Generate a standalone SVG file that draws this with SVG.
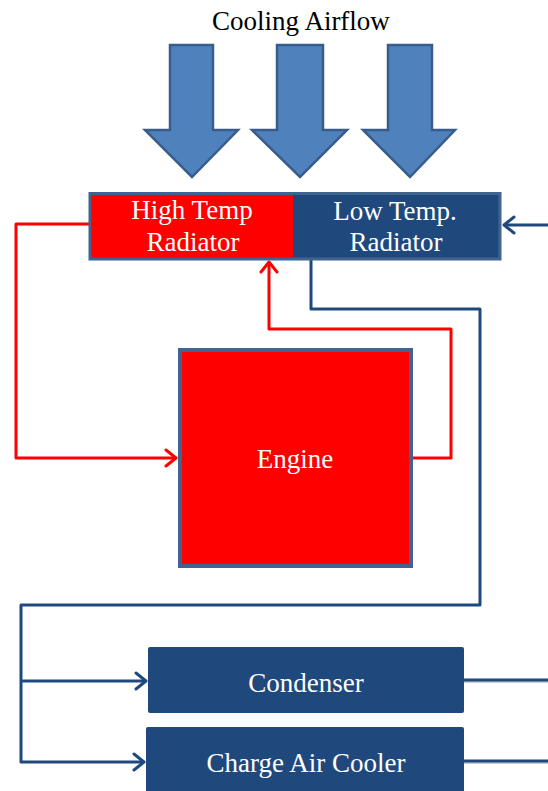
<svg xmlns="http://www.w3.org/2000/svg" width="548" height="791" viewBox="0 0 548 791">
  <style>
    text { font-family: "Liberation Serif", "Times New Roman", serif; text-anchor: middle; font-size: 27px; }
    .lbl { fill: #ffffff; }
    .title { fill: #000000; }
    .air { fill: #4f81bd; stroke: #385d8a; stroke-width: 2.5; stroke-linejoin: miter; }
    .hot { fill: none; stroke: #ff0000; stroke-width: 3; stroke-linejoin: round; }
    .cold { fill: none; stroke: #1f497d; stroke-width: 3; stroke-linejoin: round; }
  </style>
  <defs>
    <marker id="chevRed" markerUnits="userSpaceOnUse" viewBox="0 0 14 20" refX="12" refY="10" markerWidth="14" markerHeight="20" orient="auto">
      <path d="M2,2 L12,10 L2,18" fill="none" stroke="#ff0000" stroke-width="3" stroke-linecap="round" stroke-linejoin="round"/>
    </marker>
    <marker id="chevBlue" markerUnits="userSpaceOnUse" viewBox="0 0 14 20" refX="12" refY="10" markerWidth="14" markerHeight="20" orient="auto">
      <path d="M2,2 L12,10 L2,18" fill="none" stroke="#1f497d" stroke-width="3" stroke-linecap="round" stroke-linejoin="round"/>
    </marker>
  </defs>

  <rect width="548" height="791" fill="#ffffff"/>

  <!-- airflow label and arrows -->
  <g id="airflow">
    <text class="title" x="301" y="30" font-family="Liberation Serif, serif">Cooling Airflow</text>
    <polygon class="air" points="170,45 213,45 213,130 238,130 192,177 145,130 170,130"/>
    <polygon class="air" points="277,45 323,45 323,130 347,130 300,177 252,130 277,130"/>
    <polygon class="air" points="388,45 432,45 432,130 455,130 410,177 363,130 388,130"/>
  </g>

  <!-- connectors -->
  <g id="connectors">
    <!-- hot loop: radiator -> engine -> radiator -->
    <polyline class="hot" points="90,224 16,224 16,458 176,458" marker-end="url(#chevRed)"/>
    <polyline class="hot" points="413,458 451,458 451,329 269,329 269,262" marker-end="url(#chevRed)"/>
    <!-- low temperature loop -->
    <polyline class="cold" points="311,260 311,309 480,309 480,605 21,605 21,762 144,762" marker-end="url(#chevBlue)"/>
    <polyline class="cold" points="21,681 146,681" marker-end="url(#chevBlue)"/>
    <line x1="548" y1="225" x2="504" y2="225" class="cold" marker-end="url(#chevBlue)"/>
    <line x1="464" y1="682" x2="548" y2="682" stroke="#9a9a9a" stroke-width="2" opacity="0.5"/>
    <line x1="464" y1="680" x2="548" y2="680" class="cold"/>
    <line x1="464" y1="763" x2="548" y2="763" stroke="#9a9a9a" stroke-width="2" opacity="0.5"/>
    <line x1="464" y1="761" x2="548" y2="761" class="cold"/>
  </g>

  <!-- radiator pack -->
  <g id="radiators">
    <rect x="90" y="193.5" width="410" height="65.5" fill="#1f497d" stroke="#41648f" stroke-width="3"/>
    <g id="htRadiator">
      <rect x="92" y="195" width="201" height="62" fill="#ff0000"/>
      <text class="lbl" x="192" y="219" font-family="Liberation Serif, serif">High Temp</text>
      <text class="lbl" x="193" y="251" font-family="Liberation Serif, serif">Radiator</text>
    </g>
    <g id="ltRadiator">
      <text class="lbl" x="395" y="220" font-family="Liberation Serif, serif">Low Temp.</text>
      <text class="lbl" x="396" y="251" font-family="Liberation Serif, serif">Radiator</text>
    </g>
  </g>

  <g id="engine">
    <rect x="180" y="350" width="231" height="216" fill="#ff0000" stroke="#41648f" stroke-width="4"/>
    <text class="lbl" x="295" y="468" font-family="Liberation Serif, serif">Engine</text>
  </g>

  <g id="condenser">
    <rect x="148" y="647" width="316" height="66" rx="2" fill="#1f497d"/>
    <text class="lbl" x="306" y="692" font-family="Liberation Serif, serif">Condenser</text>
  </g>

  <g id="chargeAirCooler">
    <rect x="146" y="727" width="318" height="70" rx="2" fill="#1f497d"/>
    <text class="lbl" x="306" y="772" font-family="Liberation Serif, serif">Charge Air Cooler</text>
  </g>
</svg>
